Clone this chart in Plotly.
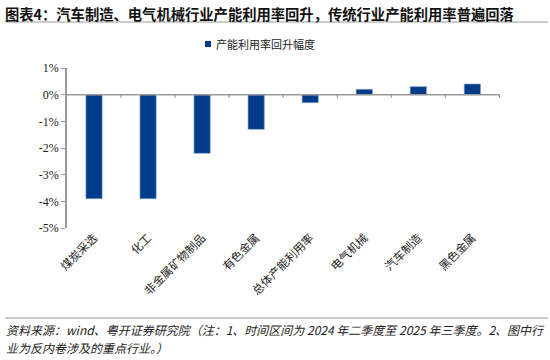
import plotly.graph_objects as go

categories = ["煤炭采选", "化工", "非金属矿物制品", "有色金属", "总体产能利用率", "电气机械", "汽车制造", "黑色金属"]
values = [-3.9, -3.9, -2.2, -1.3, -0.3, 0.2, 0.3, 0.4]
series_name = "产能利用率回升幅度"
tick_vals = [1, 0, -1, -2, -3, -4, -5]
tick_text = ["1%", "0%", "-1%", "-2%", "-3%", "-4%", "-5%"]
title_text = "图表4：汽车制造、电气机械行业产能利用率回升，传统行业产能利用率普遍回落"
footer1 = "资料来源：wind、粤开证券研究院（注：1、时间区间为 2024 年二季度至 2025 年三季度。2、图中行"
footer2 = "业为反内卷涉及的重点行业。）"

W, H = 550, 360
ML, MR, MT, MB = 67, 50, 68, 132
PW = W - ML - MR
PH = H - MT - MB

def px(x):
    return (x - ML) / PW

def py(y):
    return (H - MB - y) / PH

CJK = "Noto Sans CJK SC"
SERIF = "Liberation Serif"

fig = go.Figure()
fig.add_trace(go.Bar(
    x=categories, y=values, name=series_name,
    marker=dict(color="#003C87", line=dict(color="#7FA0C8", width=0.6)),
    width=0.30,
))

fig.update_layout(
    width=W, height=H,
    margin=dict(l=ML, r=MR, t=MT, b=MB, autoexpand=False),
    paper_bgcolor="white", plot_bgcolor="white",
    showlegend=False,
    bargap=0.7,
    xaxis=dict(
        showline=False, showgrid=False, zeroline=False,
        ticks="", tickangle=-45, automargin=False,
        tickfont=dict(family=CJK, size=11.5, color="#222"),
    ),
    yaxis=dict(
        range=[-5, 1], tickvals=tick_vals, ticktext=tick_text,
        showgrid=False, zeroline=False, automargin=False,
        showline=True, linecolor="#999", linewidth=1.5,
        ticks="outside", ticklen=4, tickcolor="#999", tickwidth=1.2,
        tickfont=dict(family=SERIF, size=12, color="#222"),
    ),
)

# zero baseline with category boundary tick marks
fig.add_shape(type="line", xref="paper", yref="y", x0=0, x1=1, y0=0, y1=0,
              line=dict(color="#999", width=1.5))
n = len(categories)
for i in range(1, n + 1):
    fig.add_shape(type="line", xref="x", yref="y", x0=i - 0.5, x1=i - 0.5,
                  y0=0, y1=-0.12, line=dict(color="#999", width=1.2))

# title
fig.add_annotation(text="<b>" + title_text + "</b>", xref="paper", yref="paper",
                   x=px(3), y=py(13), xanchor="left", yanchor="middle", showarrow=False,
                   font=dict(family=CJK, size=14.3, color="#111"))
fig.add_shape(type="line", xref="paper", yref="paper", x0=px(5), x1=px(548),
              y0=py(22), y1=py(22), line=dict(color="#999", width=1))

# legend
fig.add_shape(type="rect", xref="paper", yref="paper", x0=px(205), x1=px(211),
              y0=py(47), y1=py(41), fillcolor="#003C87", line=dict(width=0))
fig.add_annotation(text=series_name, xref="paper", yref="paper",
                   x=px(214), y=py(44), xanchor="left", yanchor="middle", showarrow=False,
                   font=dict(family=CJK, size=11, color="#222"))

# footer
fig.add_shape(type="line", xref="paper", yref="paper", x0=px(5), x1=px(548),
              y0=py(318), y1=py(318), line=dict(color="#999", width=1))
fig.add_annotation(text="<i>" + footer1 + "</i>", xref="paper", yref="paper",
                   x=px(4), y=py(329), xanchor="left", yanchor="middle", showarrow=False,
                   font=dict(family=CJK, size=12, color="#222"))
fig.add_annotation(text="<i>" + footer2 + "</i>", xref="paper", yref="paper",
                   x=px(4), y=py(347), xanchor="left", yanchor="middle", showarrow=False,
                   font=dict(family=CJK, size=12, color="#222"))

fig.write_html("out.html", config={"displayModeBar": False},
               post_script="document.body.style.margin='0';document.body.style.padding='0';")
